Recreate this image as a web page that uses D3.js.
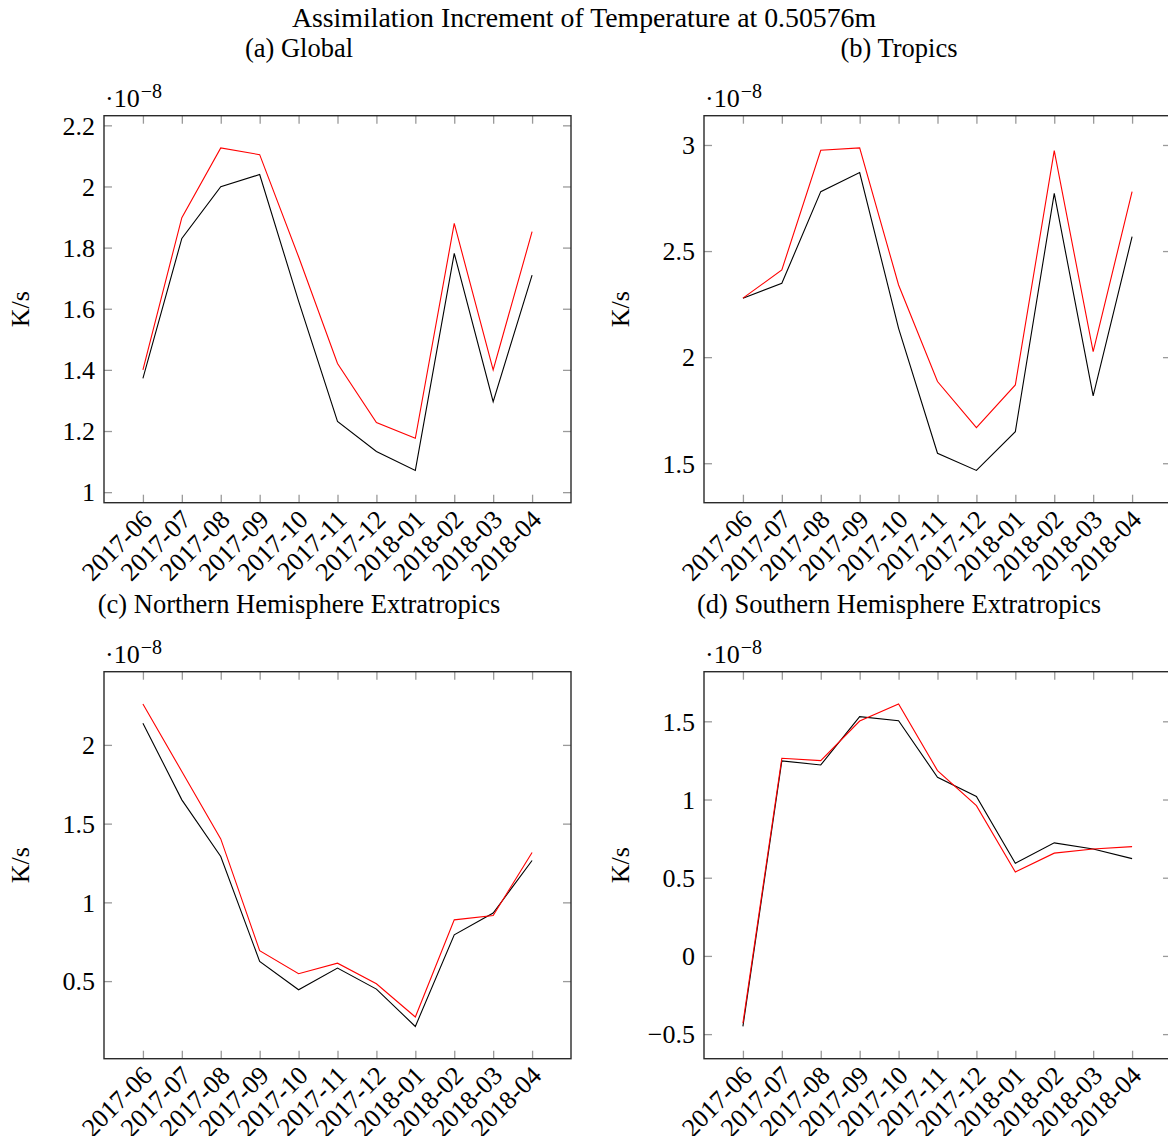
<!DOCTYPE html>
<html>
<head>
<meta charset="utf-8">
<script src="https://cdn.jsdelivr.net/npm/d3@7"></script>
<style>
  body { margin: 0; background: #fff; }
  svg text { font-family: "Liberation Serif", "Times New Roman", serif; fill: #000; }
</style>
</head>
<body>
<svg id="chart" width="1168" height="1136"></svg>
<script>
// Monthly categories shared by every panel
const months = ["2017-06", "2017-07", "2017-08", "2017-09", "2017-10", "2017-11",
                "2017-12", "2018-01", "2018-02", "2018-03", "2018-04"];

// Assimilation increment, units of 1e-8 K/s
const globalBlack = [1.372, 1.830, 1.999, 2.039, 1.625, 1.231, 1.133, 1.071, 1.781, 1.296, 1.710];
const globalRed   = [1.400, 1.898, 2.126, 2.104, 1.770, 1.421, 1.228, 1.176, 1.879, 1.400, 1.852];

const tropicsBlack = [2.278, 2.348, 2.780, 2.870, 2.136, 1.547, 1.466, 1.649, 2.772, 1.817, 2.568];
const tropicsRed   = [2.278, 2.411, 2.975, 2.986, 2.340, 1.885, 1.668, 1.869, 2.973, 2.026, 2.780];

const northBlack = [2.138, 1.651, 1.291, 0.625, 0.445, 0.583, 0.449, 0.212, 0.794, 0.932, 1.266];
const northRed   = [2.260, 1.831, 1.403, 0.693, 0.547, 0.614, 0.483, 0.272, 0.889, 0.917, 1.317];

const southBlack = [-0.451, 1.247, 1.221, 1.530, 1.504, 1.142, 1.019, 0.593, 0.723, 0.684, 0.622];
const southRed   = [-0.430, 1.264, 1.249, 1.502, 1.611, 1.185, 0.961, 0.537, 0.657, 0.684, 0.699];

// Y tick values per panel
const globalTicks  = [1, 1.2, 1.4, 1.6, 1.8, 2, 2.2];
const tropicsTicks = [1.5, 2, 2.5, 3];
const northTicks   = [0.5, 1, 1.5, 2];
const southTicks   = [-0.5, 0, 0.5, 1, 1.5];

const mainTitle = "Assimilation Increment of Temperature at 0.50576m";
const panelTitles = ["(a) Global", "(b) Tropics",
                     "(c) Northern Hemisphere Extratropics", "(d) Southern Hemisphere Extratropics"];
const yLabel = "K/s";

const panels = [
  { title: panelTitles[0], black: globalBlack,  red: globalRed,  ticks: globalTicks,  col: 0, row: 0 },
  { title: panelTitles[1], black: tropicsBlack, red: tropicsRed, ticks: tropicsTicks, col: 1, row: 0 },
  { title: panelTitles[2], black: northBlack,   red: northRed,   ticks: northTicks,   col: 0, row: 1 },
  { title: panelTitles[3], black: southBlack,   red: southRed,   ticks: southTicks,   col: 1, row: 1 }
];

// Layout
const FS = 26;
const boxW = 467, boxH = 387;
const colX = [104, 704];
const rowY = [115.7, 671.7];
const tickLen = 8;
const tickColor = "#9a9a9a";

const svg = d3.select("#chart");

svg.append("text")
  .attr("x", 584).attr("y", 27)
  .attr("text-anchor", "middle")
  .attr("font-size", 27.8)
  .text(mainTitle);

const fmt = d3.format("~g");

panels.forEach(p => {
  const x0 = colX[p.col], y0 = rowY[p.row];
  const g = svg.append("g").attr("transform", `translate(${x0},${y0})`);

  const x = d3.scalePoint().domain(months).range([0, boxW]).padding(1);
  const [lo, hi] = d3.extent(p.black.concat(p.red));
  const pad = (hi - lo) * 0.1;
  const y = d3.scaleLinear().domain([lo - pad, hi + pad]).range([boxH, 0]);

  // Panel title
  svg.append("text")
    .attr("x", x0 + boxW / 2 - 38.5)
    .attr("y", y0 - 58.5)
    .attr("text-anchor", "middle")
    .attr("font-size", 26.5)
    .text(p.title);

  // Axes (ticks point inward on all four sides)
  const left = g.append("g").call(d3.axisLeft(y).tickValues(p.ticks).tickFormat(fmt)
      .tickSize(-tickLen).tickPadding(9));
  const right = g.append("g").attr("transform", `translate(${boxW},0)`)
    .call(d3.axisRight(y).tickValues(p.ticks).tickFormat("").tickSize(-tickLen));
  const top = g.append("g")
    .call(d3.axisTop(x).tickFormat("").tickSize(-tickLen));
  const bottom = g.append("g").attr("transform", `translate(0,${boxH})`)
    .call(d3.axisBottom(x).tickSize(-tickLen).tickPadding(0));

  [left, right, top, bottom].forEach(a => {
    a.select(".domain").remove();
    a.selectAll(".tick line").attr("stroke", tickColor).attr("stroke-width", 1.3);
    a.selectAll("text").attr("font-size", FS).attr("font-family", null).attr("fill", "#000");
  });
  left.selectAll("text").attr("dy", "0.34em");

  bottom.selectAll(".tick text")
    .attr("text-anchor", "end")
    .attr("dy", "0.34em")
    .attr("y", 0)
    .attr("transform", "translate(4,12) rotate(-45)");

  // Data lines
  const line = d3.line().x((d, i) => x(months[i])).y(d => y(d));
  g.append("path").datum(p.black)
    .attr("fill", "none").attr("stroke", "#000").attr("stroke-width", 1.1)
    .attr("d", line);
  g.append("path").datum(p.red)
    .attr("fill", "none").attr("stroke", "#ff0000").attr("stroke-width", 1.1)
    .attr("d", line);

  // Axis frame
  g.append("rect")
    .attr("width", boxW).attr("height", boxH)
    .attr("fill", "none").attr("stroke", "#2a2a2a").attr("stroke-width", 1.4);

  // Scale factor above the y axis
  const sf = g.append("text").attr("x", 1).attr("y", -9).attr("font-size", FS);
  sf.append("tspan").text("\u00B710");
  sf.append("tspan").attr("dx", 1).attr("dy", -9).attr("font-size", 20).text("\u22128");

  // Y axis label
  svg.append("text")
    .attr("transform", `translate(${x0 - 75},${y0 + boxH / 2}) rotate(-90)`)
    .attr("text-anchor", "middle")
    .attr("font-size", FS)
    .text(yLabel);
});
</script>
</body>
</html>
